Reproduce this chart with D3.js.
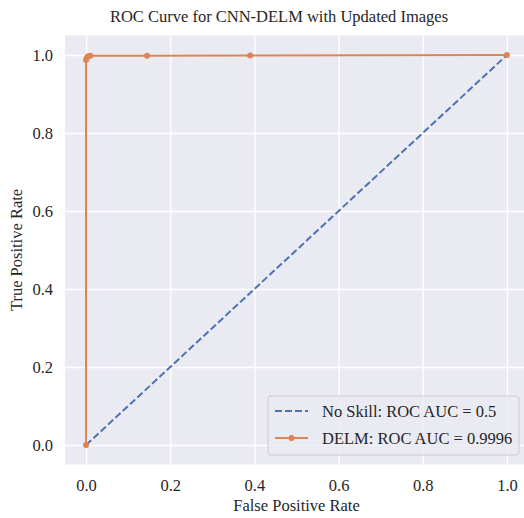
<!DOCTYPE html>
<html>
<head>
<meta charset="utf-8">
<script src="https://cdn.jsdelivr.net/npm/d3@7"></script>
<style>
  body { margin: 0; background: #fff; }
  svg { display: block; }
  svg text { font-family: "Liberation Serif", "DejaVu Serif", serif !important; fill: #262626; }
</style>
</head>
<body>
<svg id="chart" width="524" height="518"></svg>
<script>
// ROC data
const skillFpr = [0, 1];
const skillTpr = [0, 1];
const delmFpr = [0, 0, 0.002, 0.005, 0.01, 0.145, 0.39, 1.0];
const delmTpr = [0, 0.987, 0.993, 0.997, 0.998, 0.998, 0.999, 1.0];
const tickValues = [0, 0.2, 0.4, 0.6, 0.8, 1.0];
const legendLabels = ['No Skill: ROC AUC = 0.5', 'DELM: ROC AUC = 0.9996'];

const blue = '#4c72b0', orange = '#dd8452';
const fs = 16.5;

const svg = d3.select('#chart');
const margin = { left: 65, top: 35.5, right: 528, bottom: 464.5 };

const x = d3.scaleLinear().domain([-0.05, 1.05]).range([margin.left, margin.right]);
const y = d3.scaleLinear().domain([-0.05, 1.05]).range([margin.bottom, margin.top]);

// plot background
svg.append('rect')
  .attr('x', margin.left).attr('y', margin.top)
  .attr('width', margin.right - margin.left)
  .attr('height', margin.bottom - margin.top)
  .attr('fill', '#eaeaf2');

// grid
svg.append('g')
  .attr('transform', `translate(0,${margin.bottom})`)
  .call(d3.axisBottom(x).tickValues(tickValues).tickSize(-(margin.bottom - margin.top)).tickFormat(''))
  .call(g => g.select('.domain').remove())
  .call(g => g.selectAll('line').attr('stroke', '#fff').attr('stroke-width', 1.3));
svg.append('g')
  .attr('transform', `translate(${margin.left},0)`)
  .call(d3.axisLeft(y).tickValues(tickValues).tickSize(-(margin.right - margin.left)).tickFormat(''))
  .call(g => g.select('.domain').remove())
  .call(g => g.selectAll('line').attr('stroke', '#fff').attr('stroke-width', 1.3));

// tick labels
svg.append('g')
  .attr('transform', `translate(0,${margin.bottom})`)
  .call(d3.axisBottom(x).tickValues(tickValues).tickSize(0).tickPadding(15).tickFormat(d3.format('.1f')))
  .attr('font-size', fs)
  .call(g => g.select('.domain').remove());
svg.append('g')
  .attr('transform', `translate(${margin.left},0)`)
  .call(d3.axisLeft(y).tickValues(tickValues).tickSize(0).tickPadding(12).tickFormat(d3.format('.1f')))
  .attr('font-size', fs)
  .call(g => g.select('.domain').remove());

// axis labels and title
svg.append('text')
  .attr('x', 296.5).attr('y', 511)
  .attr('text-anchor', 'middle').attr('font-size', fs)
  .text('False Positive Rate');
svg.append('text')
  .attr('transform', `translate(22,${(margin.top + margin.bottom) / 2}) rotate(-90)`)
  .attr('text-anchor', 'middle').attr('font-size', fs)
  .text('True Positive Rate');
svg.append('text')
  .attr('x', 279).attr('y', 22)
  .attr('text-anchor', 'middle').attr('font-size', fs)
  .text('ROC Curve for CNN-DELM with Updated Images');

// clip to plot area
svg.append('clipPath').attr('id', 'clip')
  .append('rect')
  .attr('x', margin.left).attr('y', margin.top)
  .attr('width', margin.right - margin.left)
  .attr('height', margin.bottom - margin.top);

const plot = svg.append('g').attr('clip-path', 'url(#clip)');
const line = d3.line().x(d => x(d[0])).y(d => y(d[1]));

const skill = d3.zip(skillFpr, skillTpr);
const delm = d3.zip(delmFpr, delmTpr);

plot.append('path')
  .datum(skill)
  .attr('d', line)
  .attr('fill', 'none').attr('stroke', blue).attr('stroke-width', 2)
  .attr('stroke-dasharray', '7,3');

plot.append('path')
  .datum(delm)
  .attr('d', line)
  .attr('fill', 'none').attr('stroke', orange).attr('stroke-width', 2);

plot.selectAll('.pt').data(delm).enter()
  .append('circle').attr('class', 'pt')
  .attr('cx', d => x(d[0])).attr('cy', d => y(d[1]))
  .attr('r', 3).attr('fill', orange);

// legend
const lg = svg.append('g').attr('transform', 'translate(268,396)');
lg.append('rect')
  .attr('width', 251).attr('height', 59).attr('rx', 3)
  .attr('fill', '#eaeaf2').attr('fill-opacity', 0.8)
  .attr('stroke', '#cccccc').attr('stroke-width', 1);

const rows = [
  { label: legendLabels[0], color: blue, dash: '7,3', marker: false },
  { label: legendLabels[1], color: orange, dash: null, marker: true }
];
rows.forEach((r, i) => {
  const cy = 15 + i * 27;
  lg.append('line')
    .attr('x1', 7).attr('x2', 40).attr('y1', cy).attr('y2', cy)
    .attr('stroke', r.color).attr('stroke-width', 2)
    .attr('stroke-dasharray', r.dash);
  if (r.marker) {
    lg.append('circle').attr('cx', 23.5).attr('cy', cy).attr('r', 3).attr('fill', r.color);
  }
  lg.append('text')
    .attr('x', 54).attr('y', cy + 5.5)
    .attr('font-size', fs)
    .text(r.label);
});
</script>
</body>
</html>
